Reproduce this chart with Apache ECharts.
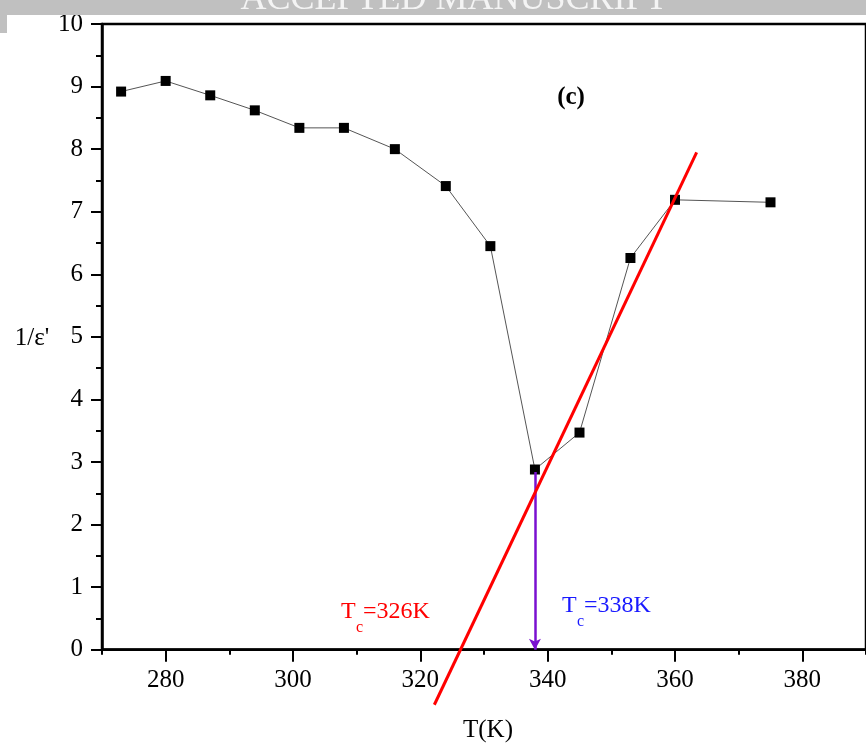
<!DOCTYPE html>
<html>
<head>
<meta charset="utf-8">
<script src="https://cdn.jsdelivr.net/npm/echarts@6/dist/echarts.min.js"></script>
<style>
  html, body { margin: 0; padding: 0; background: #fff; }
  #chart { width: 866px; height: 747px; }
</style>
</head>
<body>
<div id="chart"></div>
<script>
// ---- data ----
const temps  = [273, 280, 287, 294, 301, 308, 316, 324, 331, 338, 345, 353, 360, 375];
const invEps = [8.92, 9.09, 8.86, 8.62, 8.34, 8.34, 8.00, 7.41, 6.45, 2.88, 3.47, 6.26, 7.19, 7.15];
const fitLineX = [322.2, 363.4];
const fitLineY = [-0.88, 7.95];
const tcPeak = 338;
const tcPeakY = 2.84;
const xMajorTicks = [280, 300, 320, 340, 360, 380];

const FONT = 'Liberation Serif';
const points = temps.map((t, i) => [t, invEps[i]]);
const fit = fitLineX.map((x, i) => [x, fitLineY[i]]);

const chart = echarts.init(document.getElementById('chart'), null, { renderer: 'canvas' });

function subText(x, y, main, sub, rest, color) {
  return [
    { type: 'text', left: x, top: y - 13, style: { text: main, font: '24px "' + FONT + '"', fill: color } },
    { type: 'text', left: x + 15, top: y + 7, style: { text: sub, font: '16px "' + FONT + '"', fill: color } },
    { type: 'text', left: x + 22, top: y - 13, style: { text: rest, font: '24px "' + FONT + '"', fill: color } }
  ];
}

const option = {
  animation: false,
  backgroundColor: '#ffffff',
  grid: { left: 102, top: 24, right: -4.4, bottom: 97.3, show: true, borderColor: '#000', borderWidth: 2.5, backgroundColor: 'transparent' },
  xAxis: [
    {
      type: 'value', min: 270, max: 390, interval: 10,
      axisLine: { show: true, onZero: false, lineStyle: { color: '#000', width: 2.5 } },
      axisTick: { show: true, inside: false, length: 5, lineStyle: { color: '#000', width: 2 } },
      axisLabel: {
        show: true, margin: 18, color: '#000', fontFamily: FONT, fontSize: 25,
        customValues: xMajorTicks
      },
      splitLine: { show: false }
    },
    {
      type: 'value', min: 270, max: 390, position: 'bottom',
      axisLine: { show: false },
      axisTick: { show: true, inside: false, length: 12, lineStyle: { color: '#000', width: 2 }, customValues: xMajorTicks },
      axisLabel: { show: false },
      splitLine: { show: false }
    }
  ],
  yAxis: {
    type: 'value', min: 0, max: 10, interval: 1,
    axisLine: { show: true, onZero: false, lineStyle: { color: '#000', width: 2.5 } },
    axisTick: { show: true, inside: false, length: 11, lineStyle: { color: '#000', width: 2 } },
    minorTick: { show: true, splitNumber: 2, length: 6, lineStyle: { color: '#000', width: 2 } },
    axisLabel: { margin: 19, color: '#000', fontFamily: FONT, fontSize: 25 },
    splitLine: { show: false },
    minorSplitLine: { show: false }
  },
  series: [
    {
      type: 'line', data: points, xAxisIndex: 0,
      symbol: 'rect', symbolSize: 10,
      itemStyle: { color: '#000' },
      lineStyle: { color: '#555', width: 1 },
      z: 3,
      markLine: {
        silent: true, animation: false,
        symbol: ['none', 'arrow'], symbolSize: [9, 11],
        label: { show: false },
        lineStyle: { color: '#7a10d0', width: 2.5, type: 'solid' },
        data: [[{ coord: [tcPeak, tcPeakY] }, { coord: [tcPeak, 0] }]]
      }
    },
    {
      type: 'line', data: fit, xAxisIndex: 0,
      symbol: 'none', clip: false,
      lineStyle: { color: '#ff0000', width: 3 },
      z: 5
    }
  ],
  graphic: [
    { type: 'rect', shape: { x: 0, y: 0, width: 866, height: 15 }, style: { fill: '#c0c0c0' }, z: 100 },
    { type: 'rect', shape: { x: 0, y: 0, width: 7, height: 33 }, style: { fill: '#c0c0c0' }, z: 100 },
    { type: 'text', x: 454, y: 18, style: { text: 'ACCEPTED MANUSCRIPT', font: '36px "' + FONT + '"', fill: '#f4f4f4', textAlign: 'center', textVerticalAlign: 'bottom' }, z: 101 },
    { type: 'text', x: 571, y: 98, style: { text: '(c)', font: 'bold 25px "' + FONT + '"', fill: '#000', textAlign: 'center', textVerticalAlign: 'middle' } },
    { type: 'text', x: 32, y: 338, style: { text: "1/ε'", font: '25px "' + FONT + '"', fill: '#000', textAlign: 'center', textVerticalAlign: 'middle' } },
    { type: 'text', x: 488, y: 730, style: { text: 'T(K)', font: '25px "' + FONT + '"', fill: '#000', textAlign: 'center', textVerticalAlign: 'middle' } }
  ].concat(subText(341, 613, 'T', 'c', '=326K', '#ff0000'))
   .concat(subText(562, 607, 'T', 'c', '=338K', '#1a1aff'))
};

chart.setOption(option);
</script>
</body>
</html>
